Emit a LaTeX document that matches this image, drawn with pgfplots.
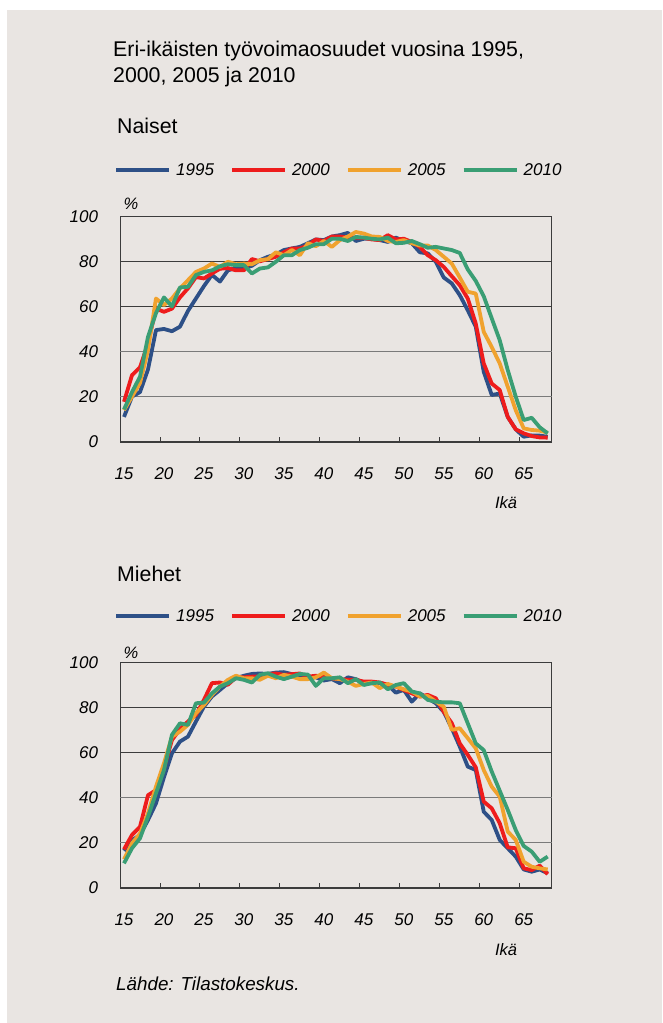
\documentclass[border=0pt]{standalone}
\usepackage{pgfplots}
\usepackage{pgfplotstable}
\pgfplotsset{compat=1.18}
\usepackage{fontspec}
\setmainfont{Liberation Sans}

\definecolor{bg}{HTML}{E9E5E2}
\definecolor{c95}{HTML}{2E5087}
\definecolor{c00}{HTML}{EE1C1C}
\definecolor{c05}{HTML}{F0A22E}
\definecolor{c10}{HTML}{3A9E74}
\definecolor{frame}{HTML}{3C3C3C}
\definecolor{lightgrid}{HTML}{7A7A7A}

% women: labour force participation by age
\pgfplotstableread{
age y95 y00 y05 y10
15 11 17.7 14 14.3
16 20 29.5 20 22
17 22 33 26 28.8
18 32 43.6 40.6 46.5
19 49.5 59 63.5 57
20 50 57.6 60.6 64
21 49 59 63.5 60
22 51 64 68 68.4
23 58 68 71.6 68.7
24 63.5 73 75.3 73.9
25 69 72.4 76.8 75.3
26 74 74.6 79 76
27 71 76.7 77.5 77.8
28 76 77 79.8 78.7
29 77 76 78.7 78.3
30 77 76 79 78.3
31 78 81 78.7 74.6
32 80.5 80 80.5 76.8
33 82 81 81 77.3
34 83 82 84 79.8
35 85 84 82.7 82.7
36 85.7 85.7 85 82.7
37 86.4 85.7 82.7 85
38 88 87 88 86
39 89.7 89.7 86.7 87.6
40 89.4 89 89 87.6
41 91 91 86.4 90
42 91.6 91 89.4 90
43 92.6 90.5 91 89
44 89 90.5 93 90.8
45 90 90.4 92.3 90.5
46 90 89.7 91 90
47 89.4 89.4 90.8 89.7
48 88.6 91.6 89 90.5
49 90.5 89.7 88.6 88
50 89 90 89.4 88.2
51 88 88.6 88 89
52 84 86.4 87 87.6
53 83.5 82.7 87 86
54 79.8 80.5 85 86.4
55 72.8 77.5 82 85.7
56 70.2 73.4 79 85
57 65 69.4 72.8 83.7
58 58.3 63.5 66.5 76.4
59 51 52.4 65.7 71.3
60 31 34.7 48.7 64.5
61 20.7 25.8 42 54.7
62 21.4 22.9 34.7 45
63 11 11 24.4 31.8
64 5.5 5.5 14 20
65 2.2 3.7 5.9 9.6
66 2.8 2.5 5.2 10.6
67 2.7 1.9 4.9 6.4
68 2.2 1.8 4 3.7
}\naiset

% men
\pgfplotstableread{
age y95 y00 y05 y10
15 16.4 17 12.6 10.8
16 21 23.4 19.7 17.5
17 23.4 27 24 21.9
18 30 41 33 31.5
19 37.4 43.3 44.8 41.9
20 49 53 55.2 52.2
21 59.6 65.5 67 67.8
22 64.8 70.3 69.2 72.9
23 67 73.7 72.2 72.2
24 73.7 76.6 77.4 81.8
25 80.3 83.3 81 82.1
26 84.8 90.7 85.5 86.2
27 87.7 91 89.2 89.2
28 90.7 90 92.2 90.7
29 92.9 93.3 94 92.9
30 94 93.3 92.9 92.2
31 94.8 93.6 92.9 91
32 95 93.6 92.2 94.4
33 94.8 94.8 94 95.1
34 95.4 95 92.9 93.6
35 95.6 94.4 94.4 92.5
36 94.7 94.7 93.6 93.6
37 94 95 92.5 94.8
38 93.6 93.6 92.5 94.5
39 93.3 94 93.3 89.5
40 91.9 93.6 95.4 92.9
41 92.5 92.9 92.9 92.9
42 90.7 92.5 92.5 93.3
43 93.3 92.2 91.4 90.7
44 92.5 92.2 89.5 92.5
45 90.7 91.4 90.4 89.9
46 90.7 91.4 91 90.7
47 90.7 91 88.5 91
48 90 90 90.4 88
49 86.5 89.2 89.2 89.9
50 87.7 87.7 88 90.7
51 82.5 86.2 87 87
52 86.2 84.8 84.8 86.2
53 84 85.5 85 83.3
54 81.8 84 82.5 82.5
55 78 78 80.3 82.2
56 70.7 73 70 82.2
57 62.6 64 70.7 81.8
58 53.7 58.9 66.3 72.9
59 52.2 53.4 61.8 64
60 33.7 38.2 52.2 61
61 30 35.2 44.8 51.5
62 21.2 28.6 40.4 43
63 17.5 17.9 24.9 34.5
64 13.8 17.5 21.2 25.6
65 8.1 8.6 11.5 18.5
66 7.1 7.8 9.3 16
67 8.1 9.8 8.6 11.5
68 6.4 6 8.1 13.8
}\miehet

\pgfplotsset{
  agechart/.style={
    scale only axis, width=431.7pt, height=225.5pt,
    anchor=south west,
    xmin=14.5, xmax=68.5, ymin=0, ymax=100,
    xtick={15,20,...,65}, minor xtick={19.5,24.5,...,64.5},
    ytick={0,60,80,100},
    extra y ticks={20,40},
    extra y tick style={major grid style={lightgrid, line width=1pt}},
    major tick length=0pt, minor tick length=5pt,
    tick align=inside, xtick pos=bottom, ytick pos=left,
    minor tick style={frame, line width=0.9pt},
    axis line style={frame, line width=1pt},
    ymajorgrids, major grid style={frame, line width=1pt},
    /pgf/number format/assume math mode=true,
    ticklabel style={font=\fontsize{17}{20}\selectfont\itshape},
    xticklabel style={anchor=center, yshift=-32.3pt},
    yticklabel style={anchor=east, inner sep=0pt, xshift=-21.7pt},
    every axis plot/.append style={line width=3.8pt, line join=round, no marks},
    legend columns=4,
    legend cell align=left,
    legend style={at={(0,1)}, anchor=west, xshift=-6pt, yshift=46pt,
      draw=none, fill=none, inner sep=0pt,
      nodes={inner sep=0pt, font=\fontsize{17}{20}\selectfont\itshape},
      /tikz/every odd column/.append style={column sep=5pt},
      /tikz/every even column/.append style={column sep=16pt}},
    legend image code/.code={\draw[#1, line width=4pt] (0pt,0pt) -- (53pt,0pt);},
    after end axis/.code={\draw[frame, line width=1.7pt] (rel axis cs:0,0) -- (rel axis cs:1,0);},
  }
}

\begin{document}
\begin{tikzpicture}
\fill[white] (0pt,0pt) rectangle (662pt,-1023pt);
\fill[bg] (7pt,-10pt) rectangle (662pt,-1023pt);

\node[anchor=base west, inner sep=0pt, font=\fontsize{21.3}{26}\selectfont] at (113pt,-56pt) {Eri-ikäisten työvoimaosuudet vuosina 1995,};
\node[anchor=base west, inner sep=0pt, font=\fontsize{21.3}{26}\selectfont] at (113pt,-82.7pt) {2000, 2005 ja 2010};

\node[anchor=base west, inner sep=0pt, font=\fontsize{21.3}{26}\selectfont] at (117pt,-133pt) {Naiset};
\begin{axis}[agechart, at={(120pt,-441.7pt)}]
\addplot[c95] table[x=age, y=y95] {\naiset};
\addplot[c00] table[x=age, y=y00] {\naiset};
\addplot[c05] table[x=age, y=y05] {\naiset};
\addplot[c10] table[x=age, y=y10] {\naiset};
\legend{1995,2000,2005,2010}
\end{axis}
\node[inner sep=0pt, font=\fontsize{16.5}{18}\selectfont\itshape] at (131pt,-204pt) {\%};
\node[inner sep=0pt, font=\fontsize{16.5}{18}\selectfont\itshape] at (506pt,-503pt) {Ikä};

\node[anchor=base west, inner sep=0pt, font=\fontsize{21.3}{26}\selectfont] at (117pt,-581.7pt) {Miehet};
\begin{axis}[agechart, at={(120pt,-887.7pt)}]
\addplot[c95] table[x=age, y=y95] {\miehet};
\addplot[c00] table[x=age, y=y00] {\miehet};
\addplot[c05] table[x=age, y=y05] {\miehet};
\addplot[c10] table[x=age, y=y10] {\miehet};
\legend{1995,2000,2005,2010}
\end{axis}
\node[inner sep=0pt, font=\fontsize{16.5}{18}\selectfont\itshape] at (131pt,-653pt) {\%};
\node[inner sep=0pt, font=\fontsize{16.5}{18}\selectfont\itshape] at (506pt,-950pt) {Ikä};

\node[anchor=west, inner sep=0pt, font=\fontsize{18.8}{22}\selectfont\itshape] at (116pt,-984pt) {Lähde: Tilastokeskus.};
\end{tikzpicture}
\end{document}
